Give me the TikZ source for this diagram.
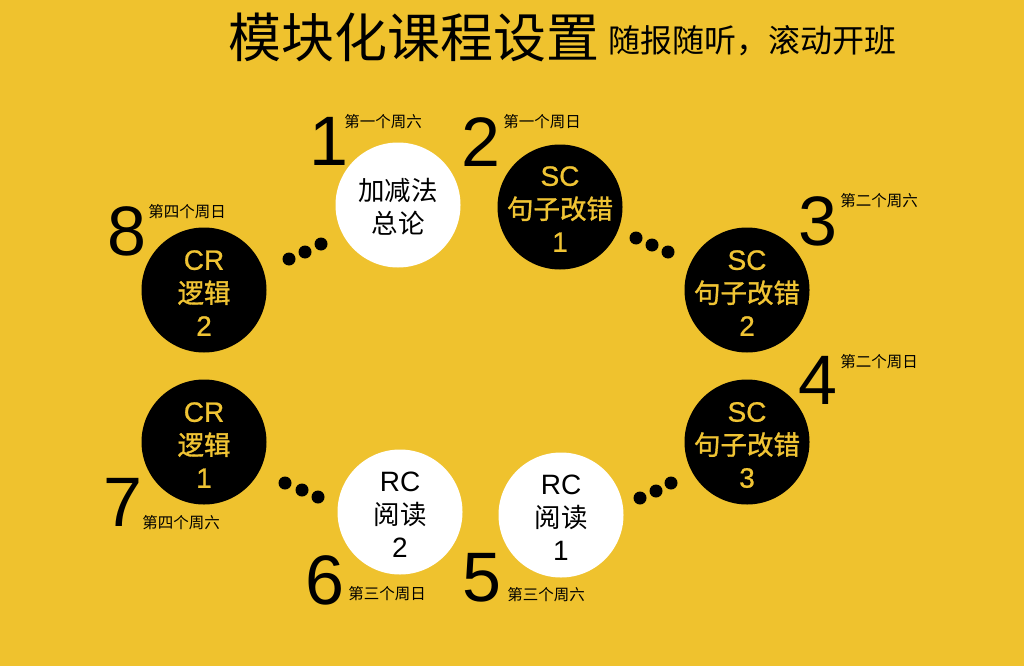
\documentclass[tikz,border=0pt]{standalone}
\usepackage{fontspec}
\setmainfont{Liberation Sans}
\newfontfamily\cjk{Noto Sans CJK SC}
\newfontfamily\cjkb[FakeBold=1.2]{Noto Sans CJK SC}
\newfontfamily\latb[FakeBold=0.8]{Liberation Sans}
\definecolor{bg}{RGB}{239,194,46}
\definecolor{ytext}{RGB}{240,196,52}
\newcommand{\cjkt}[1]{{\cjkb\fontsize{26.5}{33}\selectfont #1}}
\newcommand{\cjkw}[1]{{\cjk\fontsize{26.5}{33}\selectfont #1}}
\begin{document}
\begin{tikzpicture}[x=1pt,y=-1pt,
  wc/.style={circle, fill=white, minimum size=125pt, inner sep=0pt},
  bc/.style={wc, fill=black},
  wt/.style={inner sep=0pt, text=black, align=center, font=\fontsize{28}{33}\selectfont},
  bt/.style={wt, text=ytext, font=\latb\fontsize{28}{33}\selectfont},
  num/.style={inner sep=0pt, font=\fontsize{70}{70}\selectfont},
  day/.style={inner sep=0pt, font=\cjk\fontsize{15.5}{16}\selectfont},
  dotc/.style={fill=black}]
\fill[bg] (0,0) rectangle (1024,666);
\useasboundingbox (0,0) rectangle (1024,666);
% title
\node[inner sep=0pt, font=\cjk\fontsize{53}{53}\selectfont] (title) at (414,37) {模块化课程设置};
\node[inner sep=0pt, font=\cjk\fontsize{32}{32}\selectfont] (subtitle) at (752,41) {随报随听，滚动开班};
% circles
\node[wc] (c1) at (398,205) {};
\node[bc] (c2) at (560,207) {};
\node[bc] (c3) at (747,290) {};
\node[bc] (c4) at (747,442) {};
\node[wc] (c5) at (561,515) {};
\node[wc] (c6) at (400,512) {};
\node[bc] (c7) at (204,442) {};
\node[bc] (c8) at (204,290) {};
% circle texts
\node[wt] (t1) at ([yshift=-2pt]c1.center) {\cjkw{加减法}\\\cjkw{总论}};
\node[bt] (t2) at ([yshift=-2pt]c2.center) {SC\\\cjkt{句子改错}\\1};
\node[bt] (t3) at ([yshift=-3pt]c3.center) {SC\\\cjkt{句子改错}\\2};
\node[bt] (t4) at ([yshift=-3pt]c4.center) {SC\\\cjkt{句子改错}\\3};
\node[wt] (t5) at ([yshift=-3pt]c5.center) {RC\\\cjkw{阅读}\\1};
\node[wt] (t6) at ([yshift=-3pt]c6.center) {RC\\\cjkw{阅读}\\2};
\node[bt] (t7) at ([yshift=-3pt]c7.center) {CR\\\cjkt{逻辑}\\1};
\node[bt] (t8) at ([yshift=-3pt]c8.center) {CR\\\cjkt{逻辑}\\2};
% numbers
\node[num] (n1) at (329,141) {1};
\node[num] (n2) at (481,142) {2};
\node[num] (n3) at (818,221) {3};
\node[num] (n4) at (818,380) {4};
\node[num] (n5) at (482,578) {5};
\node[num] (n6) at (325,580) {6};
\node[num] (n7) at (123,502) {7};
\node[num] (n8) at (127,231) {8};
% day labels
\node[day] (d1) at (383,122) {第一个周六};
\node[day] (d2) at (542,122) {第一个周日};
\node[day] (d3) at (879,201) {第二个周六};
\node[day] (d4) at (879,362) {第二个周日};
\node[day] (d5) at (546,595) {第三个周六};
\node[day] (d6) at (387,594) {第三个周日};
\node[day] (d7) at (181,523) {第四个周六};
\node[day] (d8) at (187,212) {第四个周日};
% dots
\foreach \p in {(289,259),(305,252),(321,244),
                (636,238),(652,245),(668,252),
                (640,498),(656,491),(671,483),
                (285,483),(302,490),(318,497)}
  \fill[dotc] \p circle (6.5pt);
\end{tikzpicture}
\end{document}
